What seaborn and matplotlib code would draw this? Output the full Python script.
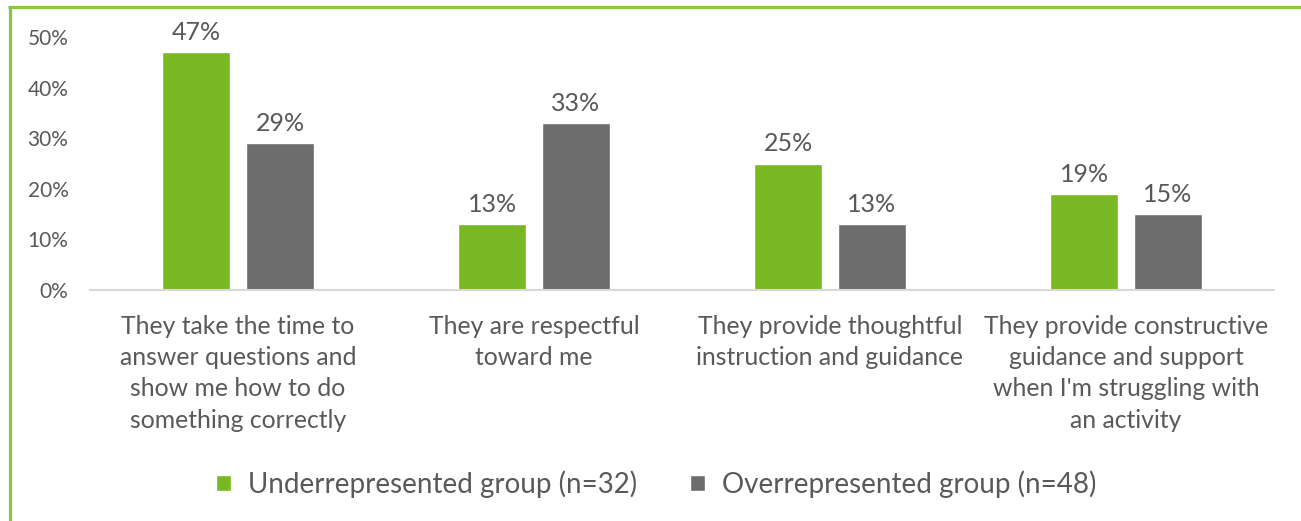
import matplotlib
matplotlib.use("Agg")
import matplotlib.pyplot as plt
import seaborn as sns
import pandas as pd
from matplotlib.lines import Line2D

categories = [
    "They take the time to\nanswer questions and\nshow me how to do\nsomething correctly",
    "They are respectful\ntoward me",
    "They provide thoughtful\ninstruction and guidance",
    "They provide constructive\nguidance and support\nwhen I'm struggling with\nan activity",
]
groups = ["Underrepresented group (n=32)", "Overrepresented group (n=48)"]
under_values = [47, 13, 25, 19]
over_values = [29, 33, 13, 15]
yticks = [0, 10, 20, 30, 40, 50]

df = pd.DataFrame({
    "category": categories * 2,
    "group": [groups[0]] * 4 + [groups[1]] * 4,
    "value": under_values + over_values,
})

sns.set_style("white")
plt.rcParams["font.family"] = ["Lato", "DejaVu Sans"]
text_color = "#595959"

W, H = 1301, 521
fig = plt.figure(figsize=(W / 100, H / 100), dpi=100)
ax = fig.add_axes([90 / W, 1 - 290 / H, (1274 - 90) / W, (290 - 37) / H])

palette = {groups[0]: "#78b823", groups[1]: "#6d6d6d"}
sns.barplot(data=df, x="category", y="value", hue="group", palette=palette,
            width=0.567, gap=0.2, ax=ax, legend=True, saturation=1)

for cont in ax.containers:
    ax.bar_label(cont, fmt="%d%%", padding=6, fontsize=18, color=text_color)

ax.set_ylim(0, 50)
ax.set_yticks(yticks)
ax.set_yticklabels([f"{v}%" for v in yticks], fontsize=15, color=text_color)
ax.tick_params(axis="y", length=0, pad=15.5)
ax.tick_params(axis="x", length=0, pad=18)
for lab in ax.get_xticklabels():
    lab.set_fontsize(17.8)
    lab.set_color(text_color)
    lab.set_linespacing(1.43)
    lab.set_verticalalignment("top")
ax.set_xlabel("")
ax.set_ylabel("")
for s in ["left", "top", "right"]:
    ax.spines[s].set_visible(False)
ax.spines["bottom"].set_color("#d9d9d9")
ax.spines["bottom"].set_linewidth(1.5)

leg = ax.legend(loc="center", bbox_to_anchor=(656 / W, 1 - 484 / H),
                bbox_transform=fig.transFigure, ncol=2, frameon=False,
                fontsize=20, handlelength=0.55, handleheight=0.55,
                handletextpad=0.6, columnspacing=1.9,
                labelcolor=text_color)

# frame lines along the top and left edges
frame_color = "#8cc63f"
fig.add_artist(Line2D([9.5 / W, 9.5 / W], [0, 1 - 6 / H], transform=fig.transFigure,
                      color=frame_color, linewidth=2.3, solid_capstyle="butt"))
fig.add_artist(Line2D([8 / W, 1], [1 - 7 / H, 1 - 7 / H], transform=fig.transFigure,
                      color=frame_color, linewidth=2.3, solid_capstyle="butt"))

fig.savefig("out.png", dpi=100)
